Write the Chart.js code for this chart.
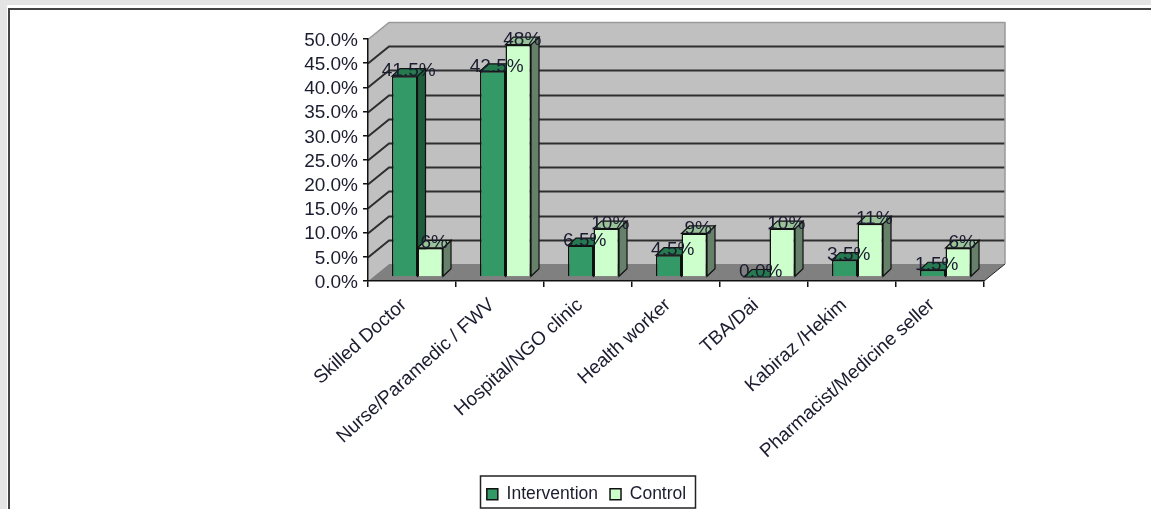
<!DOCTYPE html>
<html>
<head>
<meta charset="utf-8">
<style>
  html, body { margin: 0; padding: 0; width: 1151px; height: 509px; overflow: hidden; background: #e4e4e4; }
  #panel { position: absolute; left: 7px; top: 5px; width: 1144px; height: 504px; background: #fff; }
  #frame { position: absolute; left: 8px; top: 8px; width: 1143px; height: 501px; background: #fff;
           border-left: 2px solid #444; border-top: 2px solid #444; box-sizing: border-box; }
  canvas { position: absolute; left: 0; top: 0; }
</style>
</head>
<body>
<div id="panel"></div>
<div id="frame"></div>
<canvas id="chart" width="1151" height="513"></canvas>
<script src="https://cdn.jsdelivr.net/npm/chart.js@4"></script>
<script>
const categories = ['Skilled Doctor', 'Nurse/Paramedic / FWV', 'Hospital/NGO clinic', 'Health worker', 'TBA/Dai', 'Kabiraz /Hekim', 'Pharmacist/Medicine seller'];
const intervention = [41.5, 42.5, 6.5, 4.5, 0, 3.5, 1.5];
const control = [6, 48, 10, 9, 10, 11, 6];
const interventionLabels = ['41.5%', '42.5%', '6.5%', '4.5%', '0.0%', '3.5%', '1.5%'];
const controlLabels = ['6%', '48%', '10%', '9%', '10%', '11%', '6%'];

const FONT = '"Liberation Sans", Arial, sans-serif';
const WALL_DX = 21, WALL_DY = -17;   // depth of the chart box
const BAR_DX = 5.5, BAR_DY = -4;     // bars stand inside the box
const DEPTH_DX = 8, DEPTH_DY = -7.5; // depth of each column

const faces = [
  { side: '#1f5c3d', top: '#267a50', label: interventionLabels },
  { side: '#66806a', top: '#99c299', label: controlLabels }
];

function poly(ctx, pts, fill, stroke, lw) {
  ctx.beginPath();
  pts.forEach((p, i) => i ? ctx.lineTo(p[0], p[1]) : ctx.moveTo(p[0], p[1]));
  ctx.closePath();
  if (fill) { ctx.fillStyle = fill; ctx.fill(); }
  if (stroke) { ctx.strokeStyle = stroke; ctx.lineWidth = lw || 1; ctx.stroke(); }
}

const box3d = {
  id: 'box3d',
  // walls, floor and gridlines of the box
  beforeDraw(chart) {
    const { ctx, chartArea: a, scales: { y } } = chart;
    const l = a.left, r = a.right, t = a.top, b = a.bottom;
    ctx.save();
    poly(ctx, [[l, t], [l + WALL_DX, t + WALL_DY], [l + WALL_DX, b + WALL_DY], [l, b]], '#c0c0c0');
    poly(ctx, [[l + WALL_DX, t + WALL_DY], [r + WALL_DX, t + WALL_DY], [r + WALL_DX, b + WALL_DY], [l + WALL_DX, b + WALL_DY]], '#c0c0c0');
    poly(ctx, [[l, b], [l + WALL_DX, b + WALL_DY], [r + WALL_DX, b + WALL_DY], [r, b]], '#808080');
    y.ticks.forEach(tk => {
      if (tk.value === 0) return;
      const py = Math.round(y.getPixelForValue(tk.value)) + 0.5;
      ctx.beginPath();
      ctx.moveTo(l, py);
      ctx.lineTo(l + WALL_DX, py + WALL_DY);
      ctx.lineTo(r + WALL_DX, py + WALL_DY);
      ctx.strokeStyle = tk.value === 50 ? '#9a9a9a' : '#2e2e2e';
      ctx.lineWidth = tk.value === 50 ? 1.5 : 2;
      ctx.stroke();
    });
    ctx.beginPath();
    ctx.moveTo(r + WALL_DX, t + WALL_DY);
    ctx.lineTo(r + WALL_DX, b + WALL_DY);
    ctx.strokeStyle = '#9a9a9a';
    ctx.lineWidth = 1.5;
    ctx.stroke();
    ctx.beginPath();
    ctx.moveTo(r, b);
    ctx.lineTo(r + WALL_DX, b + WALL_DY);
    ctx.strokeStyle = '#222';
    ctx.lineWidth = 1;
    ctx.stroke();
    ctx.restore();
  },
  // side and top faces of every column, then shift the fronts into place
  beforeDatasetsDraw(chart) {
    const { ctx } = chart;
    ctx.save();
    ctx.translate(BAR_DX, BAR_DY);
    categories.forEach((_, i) => {
      chart.data.datasets.forEach((ds, d) => {
        const el = chart.getDatasetMeta(d).data[i];
        const half = el.width / 2;
        const L = el.x - half, R = el.x + half, T = el.y, B = el.base;
        poly(ctx, [[R, T], [R + DEPTH_DX, T + DEPTH_DY], [R + DEPTH_DX, B + DEPTH_DY], [R, B]], faces[d].side, '#111', 1.2);
        poly(ctx, [[L, T], [L + DEPTH_DX, T + DEPTH_DY], [R + DEPTH_DX, T + DEPTH_DY], [R, T]], faces[d].top, '#111', 1.2);
      });
    });
  },
  afterDatasetsDraw(chart) {
    const { ctx } = chart;
    ctx.restore();
    // value labels sit across the top of each column
    ctx.save();
    ctx.font = '19px ' + FONT;
    ctx.textAlign = 'center';
    ctx.textBaseline = 'middle';
    ctx.fillStyle = '#1c1c30';
    chart.data.datasets.forEach((ds, d) => {
      chart.getDatasetMeta(d).data.forEach((el, i) => {
        ctx.fillText(faces[d].label[i], el.x + BAR_DX + 4, el.y + BAR_DY - 5);
      });
    });
    ctx.restore();
  },
  // frame around the legend
  afterDraw(chart) {
    const { ctx, legend } = chart;
    const boxes = legend.legendHitBoxes;
    const left = Math.min(...boxes.map(b => b.left)) - 7;
    const right = Math.max(...boxes.map(b => b.left + b.width)) + 9;
    ctx.save();
    ctx.strokeStyle = '#222';
    ctx.lineWidth = 1.5;
    ctx.strokeRect(Math.round(left) + 0.5, 476, Math.round(right - left), 32);
    ctx.restore();
  }
};

new Chart(document.getElementById('chart'), {
  type: 'bar',
  data: {
    labels: categories,
    datasets: [
      { label: 'Intervention', data: intervention, backgroundColor: '#339966', borderColor: '#111', borderWidth: 1.5, clip: false, categoryPercentage: 0.58, barPercentage: 1 },
      { label: 'Control', data: control, backgroundColor: '#ccffcc', borderColor: '#111', borderWidth: 1.5, clip: false, categoryPercentage: 0.58, barPercentage: 1 }
    ]
  },
  options: {
    responsive: false,
    animation: false,
    layout: { padding: { left: 189, right: 167, top: 39, bottom: 0 } },
    plugins: {
      tooltip: { enabled: false },
      legend: {
        position: 'bottom',
        labels: {
          font: { family: FONT, size: 17.5 },
          color: '#1c1c30',
          boxWidth: 11,
          boxHeight: 11,
          padding: 12
        }
      }
    },
    scales: {
      x: {
        afterFit(s) { s.height = 513 - 279 - 41.5; },
        grid: { display: true, drawOnChartArea: false, drawTicks: true, tickLength: 6, offset: true, color: '#111', lineWidth: 1.5 },
        border: { display: true, color: '#111', width: 1.5 },
        ticks: {
          autoSkip: false, minRotation: 42, maxRotation: 42, padding: 7, labelOffset: -8,
          font: { family: FONT, size: 19 }, color: '#1c1c30'
        }
      },
      y: {
        min: 0, max: 50,
        afterFit(s) { s.width = 179; },
        grid: { display: true, drawOnChartArea: false, drawTicks: true, tickLength: 5, color: '#111', lineWidth: 1.5 },
        border: { display: true, color: '#111', width: 1.5 },
        ticks: {
          autoSkip: false, stepSize: 5, padding: 5, labelOffset: 1.5,
          callback: v => v.toFixed(1) + '%',
          font: { family: FONT, size: 19 }, color: '#1c1c30'
        }
      }
    }
  },
  plugins: [box3d]
});
</script>
</body>
</html>
